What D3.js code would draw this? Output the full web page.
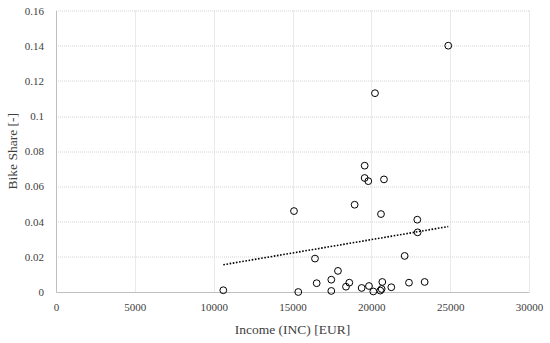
<!DOCTYPE html>
<html>
<head>
<meta charset="utf-8">
<script src="https://cdn.jsdelivr.net/npm/d3@7"></script>
<style>
  body { margin: 0; background: #fff; }
</style>
</head>
<body>
<div id="wrapper"></div>
<script>
// data
const income = [10611, 15367, 15094, 16426, 16533, 17461, 17461, 17884, 18392, 18603,
  18941, 19577, 19577, 19808, 19386, 19851, 20125, 20569, 20653, 20696,
  20612, 20802, 21266, 22113, 22388, 22915, 22936, 23382, 24880, 20231];
const bikeShare = [0.001, 0.0, 0.046, 0.019, 0.005, 0.007, 0.0006, 0.012, 0.003, 0.0053,
  0.0496, 0.0718, 0.0648, 0.063, 0.0023, 0.0034, 0.0003, 0.0008, 0.0017, 0.0057,
  0.0443, 0.064, 0.0027, 0.0205, 0.0053, 0.0411, 0.0339, 0.0057, 0.140, 0.113];
const trendX = [10611, 24880];
const trendY = [0.0155, 0.0372];
const xTicks = [0, 5000, 10000, 15000, 20000, 25000, 30000];
const yTicks = [0, 0.02, 0.04, 0.06, 0.08, 0.1, 0.12, 0.14, 0.16];

const dataset = income.map((d, i) => ({ income: d, share: bikeShare[i] }));
const xAccessor = (d) => d.income;
const yAccessor = (d) => d.share;

const serif = "'Liberation Serif', 'DejaVu Serif', serif";

let dimensions = {
  width: 550,
  height: 343,
  margin: { top: 10.5, right: 21, bottom: 51, left: 56 },
};
dimensions.boundedWidth = dimensions.width - dimensions.margin.left - dimensions.margin.right;
dimensions.boundedHeight = dimensions.height - dimensions.margin.top - dimensions.margin.bottom;

const wrapper = d3.select("#wrapper")
  .append("svg")
  .attr("width", dimensions.width)
  .attr("height", dimensions.height);

const bounds = wrapper.append("g")
  .attr("transform", `translate(${dimensions.margin.left}, ${dimensions.margin.top})`);

const xScale = d3.scaleLinear().domain([0, 30000]).range([0, dimensions.boundedWidth]);
const yScale = d3.scaleLinear().domain([0, 0.16]).range([dimensions.boundedHeight, 0]);

// gridlines
bounds.append("g")
  .selectAll("line")
  .data(yTicks.slice(1))
  .join("line")
  .attr("x1", 0)
  .attr("x2", dimensions.boundedWidth)
  .attr("y1", (d) => Math.round(yScale(d)) + 0.5)
  .attr("y2", (d) => Math.round(yScale(d)) + 0.5)
  .attr("stroke", "#d4d4d4")
  .attr("stroke-dasharray", "1,1");

bounds.append("g")
  .selectAll("line")
  .data(xTicks.slice(1))
  .join("line")
  .attr("x1", (d) => Math.round(xScale(d)) + 0.5)
  .attr("x2", (d) => Math.round(xScale(d)) + 0.5)
  .attr("y1", 0)
  .attr("y2", dimensions.boundedHeight)
  .attr("stroke", "#d4d4d4")
  .attr("stroke-dasharray", "1,1");

// axes
const xAxisGenerator = d3.axisBottom(xScale).tickValues(xTicks).tickSize(0).tickPadding(11)
  .tickFormat(d3.format("d"));
const xAxis = bounds.append("g")
  .attr("transform", `translate(0, ${dimensions.boundedHeight})`)
  .call(xAxisGenerator)
  .attr("font-family", serif)
  .attr("font-size", 11);
xAxis.select(".domain").attr("stroke", "#bfbfbf");
xAxis.selectAll(".tick text").attr("fill", "#404040");

const yAxisGenerator = d3.axisLeft(yScale).tickValues(yTicks).tickSize(0).tickPadding(12)
  .tickFormat((d) => d3.format("~g")(d));
const yAxis = bounds.append("g").call(yAxisGenerator)
  .attr("font-family", serif)
  .attr("font-size", 11);
yAxis.select(".domain").attr("stroke", "#bfbfbf");
yAxis.selectAll(".tick text").attr("fill", "#404040");

xAxis.append("text")
  .attr("x", dimensions.boundedWidth / 2)
  .attr("y", 42)
  .attr("text-anchor", "middle")
  .attr("fill", "#404040")
  .style("font-size", "13.5px")
  .text("Income (INC) [EUR]");

yAxis.append("text")
  .attr("transform", "rotate(-90)")
  .attr("x", -dimensions.boundedHeight / 2)
  .attr("y", -39)
  .attr("text-anchor", "middle")
  .attr("fill", "#404040")
  .style("font-size", "13.5px")
  .text("Bike Share [-]");

// trendline
const line = d3.line()
  .x((d) => xScale(d[0]))
  .y((d) => yScale(d[1]));
bounds.append("path")
  .datum(trendX.map((d, i) => [d, trendY[i]]))
  .attr("d", line)
  .attr("fill", "none")
  .attr("stroke", "#000")
  .attr("stroke-width", 1.6)
  .attr("stroke-dasharray", "1.6,1.6");

// points
bounds.selectAll("circle")
  .data(dataset)
  .join("circle")
  .attr("cx", (d) => xScale(xAccessor(d)))
  .attr("cy", (d) => yScale(yAccessor(d)))
  .attr("r", 3.4)
  .attr("fill", "none")
  .attr("stroke", "#000")
  .attr("stroke-width", 1);
</script>
</body>
</html>
